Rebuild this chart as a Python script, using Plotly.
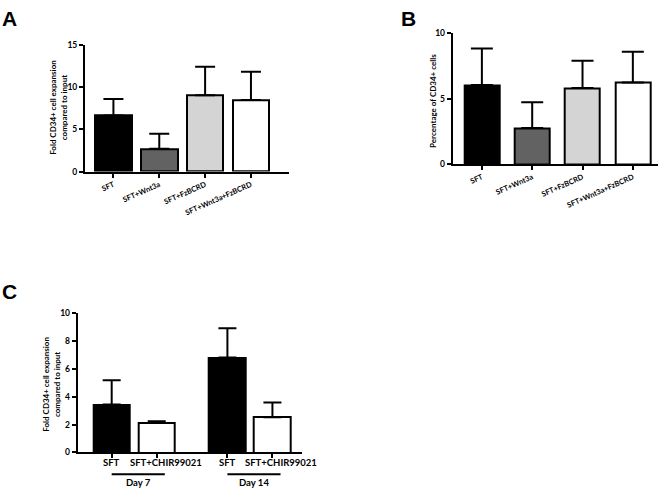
import plotly.graph_objects as go

# ---------------- data ----------------
a_categories = ["SFT", "SFT+Wnt3a", "SFT+FzBCRD", "SFT+Wnt3a+FzBCRD"]
a_means = [6.65, 2.7, 9.05, 8.5]
a_err_top = [8.6, 4.5, 12.45, 11.85]
a_colors = ["#000000", "#626262", "#d4d4d4", "#ffffff"]

b_categories = ["SFT", "SFT+Wnt3a", "SFT+FzBCRD", "SFT+Wnt3a+FzBCRD"]
b_means = [6.05, 2.75, 5.82, 6.25]
b_err_top = [8.85, 4.72, 7.9, 8.6]
b_colors = ["#000000", "#626262", "#d4d4d4", "#ffffff"]

c_labels = ["SFT", "SFT+CHIR99021", "SFT", "SFT+CHIR99021"]
c_groups = ["Day 7", "Day 14"]
c_means = [3.44, 2.12, 6.81, 2.53]
c_err_top = [5.18, 2.24, 8.9, 3.58]
c_colors = ["#000000", "#ffffff", "#000000", "#ffffff"]

# layout helpers
c_group_offset = 2.57
c_positions = [g * c_group_offset + i for g in range(2) for i in range(2)]
c_label_shift = [0, 9, 0, 9]

FONT = "Lato, Liberation Sans, sans-serif"
W, H = 660, 493


def px_x(v):
    return v / W


def px_y(v):
    return 1 - v / H


fig = go.Figure()


def add_bars(x, means, tops, colors, xa, ya, width, capw):
    fig.add_trace(go.Bar(
        x=x, y=means,
        marker=dict(color=colors, line=dict(color="black", width=2)),
        width=width,
        error_y=dict(type="data", symmetric=False,
                     array=[t - m for t, m in zip(tops, means)],
                     arrayminus=[0] * len(means),
                     color="black", thickness=2, width=capw),
        xaxis=xa, yaxis=ya, showlegend=False, hoverinfo="skip",
    ))


add_bars(a_categories, a_means, a_err_top, a_colors, "x", "y", 0.8, 10)
add_bars(b_categories, b_means, b_err_top, b_colors, "x2", "y2", 0.7, 11)
add_bars(c_positions, c_means, c_err_top, c_colors, "x3", "y3", 0.82, 9)

ytickfont = dict(family=FONT, size=8.5, color="black", weight="bold")
xtickfont = dict(family=FONT, size=7.5, color="black", weight="bold")
axis_common = dict(showline=True, linecolor="black", linewidth=2,
                   ticks="outside", tickcolor="black", tickwidth=2, ticklen=4,
                   showgrid=False, zeroline=False, tickfont=ytickfont)

fig.update_layout(
    width=W, height=H,
    margin=dict(l=0, r=0, t=0, b=0),
    paper_bgcolor="white", plot_bgcolor="white",
    bargap=0,
    xaxis=dict(axis_common, domain=[px_x(85), px_x(289)], anchor="y",
               range=[-0.62, 3.83], tickangle=-24, type="category",
               tickfont=xtickfont),
    yaxis=dict(axis_common, domain=[px_y(170), px_y(41)], anchor="x",
               range=[0, 15], tickvals=[0, 5, 10, 15]),
    xaxis2=dict(axis_common, domain=[px_x(452.7), px_x(658)], anchor="y2",
                range=[-0.58, 3.5], tickangle=-24, type="category",
                tickfont=xtickfont),
    yaxis2=dict(axis_common, domain=[px_y(162.3), px_y(29)], anchor="x2",
                range=[0, 10], tickvals=[0, 5, 10]),
    xaxis3=dict(axis_common, domain=[px_x(77.7), px_x(301.7)], anchor="y3",
                range=[-0.755, 4.22], tickvals=c_positions, showticklabels=False),
    yaxis3=dict(axis_common, domain=[px_y(456.7), px_y(314.3)], anchor="x3",
                range=[0, 10], tickvals=[0, 2, 4, 6, 8, 10]),
)

title_font = dict(family=FONT, size=8, color="black", weight="bold")
letter_font = dict(family="Liberation Sans", size=21, color="black", weight="bold")
c_font = dict(family=FONT, size=9.5, color="black", weight="bold")

annotations = [
    dict(text="A", x=px_x(0), y=px_y(0), xanchor="left", yanchor="top", font=letter_font),
    dict(text="B", x=px_x(399), y=px_y(0), xanchor="left", yanchor="top", font=letter_font),
    dict(text="C", x=px_x(0), y=px_y(279), xanchor="left", yanchor="top", font=letter_font),
    dict(text="Fold CD34+ cell expansion<br>compared to input", textangle=-90,
         x=px_x(58), y=px_y(105), xanchor="center", yanchor="middle", font=title_font),
    dict(text="Percentage of CD34+ cells", textangle=-90,
         x=px_x(433), y=px_y(98), xanchor="center", yanchor="middle", font=title_font),
    dict(text="Fold CD34+ cell expansion<br>compared to input", textangle=-90,
         x=px_x(51.5), y=px_y(387), xanchor="center", yanchor="middle", font=title_font),
]
for a in annotations:
    a.update(xref="paper", yref="paper", showarrow=False)

for pos, lab, sh in zip(c_positions, c_labels, c_label_shift):
    annotations.append(dict(text=lab, xref="x3", yref="paper", x=pos, xshift=sh,
                            y=px_y(467), xanchor="center", yanchor="middle",
                            showarrow=False, font=c_font))

shapes = []
for g, name in enumerate(c_groups):
    x0 = c_positions[2 * g]
    x1 = c_positions[2 * g + 1] + 0.18
    shapes.append(dict(type="line", xref="x3", yref="paper", x0=x0, x1=x1,
                       y0=px_y(479), y1=px_y(479), line=dict(color="black", width=2)))
    annotations.append(dict(text=name, xref="x3", yref="paper", x=(x0 + x1) / 2,
                            y=px_y(487), xanchor="center", yanchor="middle",
                            showarrow=False, font=c_font))

fig.update_layout(annotations=annotations, shapes=shapes)

fig.write_html("out.html", config={"displayModeBar": False},
               post_script="document.body.style.margin='0';document.body.style.padding='0';")
